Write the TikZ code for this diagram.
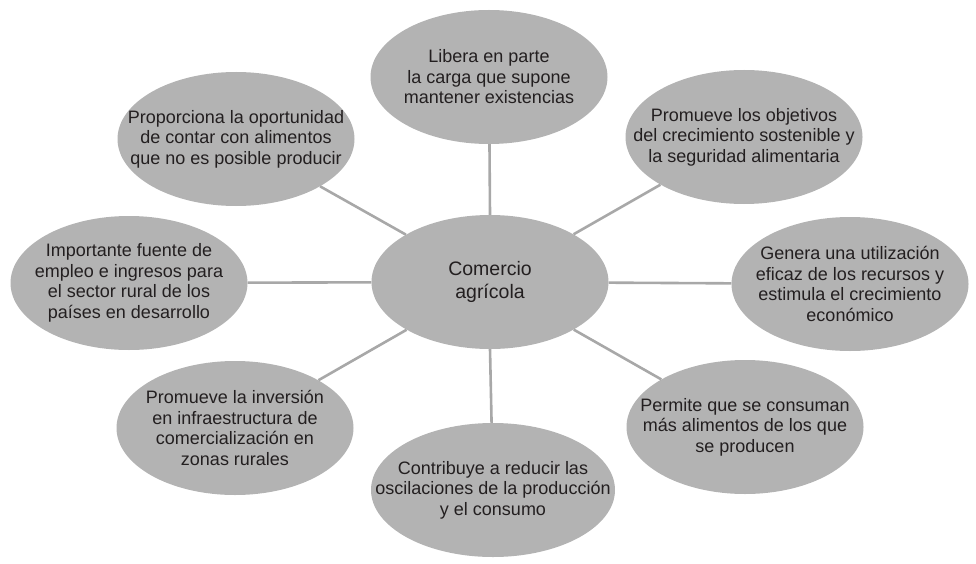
\documentclass[tikz,border=0pt]{standalone}
\usepackage{fontspec}
\setmainfont{Liberation Sans}
\usetikzlibrary{shapes.geometric}
\definecolor{bubble}{HTML}{B3B3B3}
\definecolor{linkc}{HTML}{A8A8A8}
\definecolor{txt}{HTML}{231F20}
\begin{document}
\begin{tikzpicture}[x=1pt,y=-1pt,
  bubble/.style={ellipse,fill=bubble,minimum width=237pt,minimum height=134pt,inner sep=0pt},
  label/.style={align=center,text=txt,inner sep=0pt,font=\fontsize{18}{20.5}\selectfont},
  link/.style={draw=linkc,line width=2.6pt}]
\useasboundingbox (0,0) rectangle (976,564);
\node[bubble] (c) at (490,282) {};
\node[bubble] (n) at (489,77) {};
\node[bubble] (nw) at (236,139) {};
\node[bubble] (ne) at (744,137) {};
\node[bubble] (w) at (129,283) {};
\node[bubble] (e) at (850,284) {};
\node[bubble] (sw) at (235,428) {};
\node[bubble,minimum width=244pt] (s) at (493,490) {};
\node[bubble] (se) at (745,427) {};
\node[label,font=\fontsize{19.5}{22.5}\selectfont] (ct) at (c) {Comercio\\agrícola};
\node[label] (nt) at (n) {Libera en parte\\la carga que supone\\mantener existencias};
\node[label] (nwt) at (nw) {Proporciona la oportunidad\\de contar con alimentos\\que no es posible producir};
\node[label] (net) at (ne) {Promueve los objetivos\\del crecimiento sostenible y\\la seguridad alimentaria};
\node[label] (wt) at (w) {Importante fuente de\\empleo e ingresos para\\el sector rural de los\\países en desarrollo};
\node[label] (et) at (e) {Genera una utilización\\eficaz de los recursos y\\estimula el crecimiento\\económico};
\node[label] (swt) at (sw) {Promueve la inversión\\en infraestructura de\\comercialización en\\zonas rurales};
\node[label] (st) at (s) {Contribuye a reducir las\\oscilaciones de la producción\\y el consumo};
\node[label] (set) at (se) {Permite que se consuman\\más alimentos de los que\\se producen};
\draw[link] (c.north) -- (n);
\draw[link] (c) -- (nw);
\draw[link] (c) -- (ne);
\draw[link] (c) -- (w);
\draw[link] (c) -- (e);
\draw[link] (c) -- (sw);
\draw[link] (c.south) -- (s);
\draw[link] (c) -- (se);
\end{tikzpicture}
\end{document}
